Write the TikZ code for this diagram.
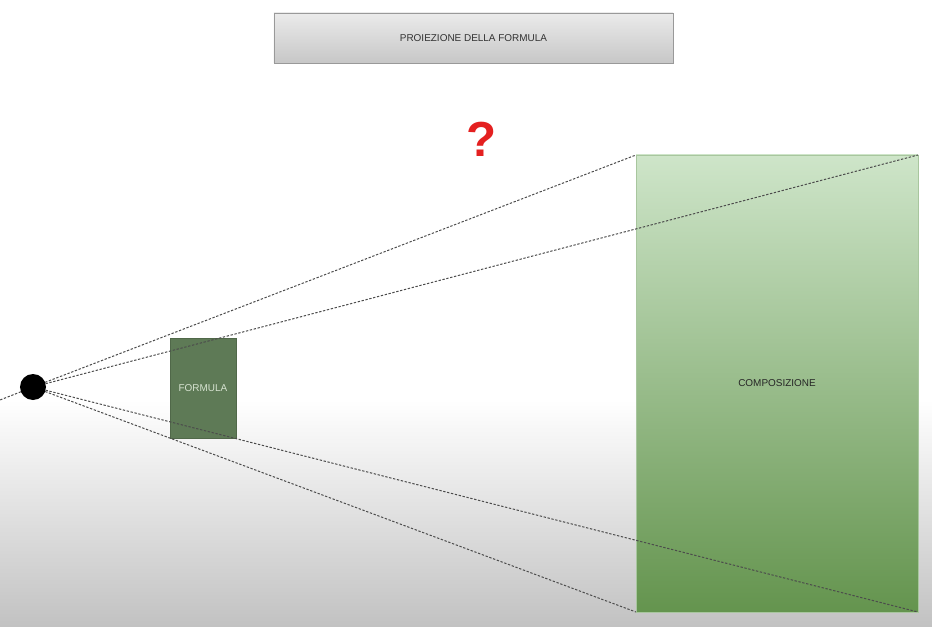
\documentclass[tikz,border=0pt]{standalone}
\usepackage{fontspec}
\setmainfont{Liberation Sans}
\definecolor{compTop}{RGB}{206,229,201}
\definecolor{compMid}{RGB}{166,206,150}
\definecolor{compBot}{RGB}{100,148,78}
\definecolor{compLine}{RGB}{168,198,158}
\definecolor{formFill}{RGB}{94,122,86}
\definecolor{formText}{RGB}{214,226,208}
\definecolor{qRed}{RGB}{228,32,32}
\begin{document}
\begin{tikzpicture}[x=0.03cm,y=-0.03cm,every node/.style={font=\fontsize{8.5}{10}\selectfont,inner sep=0pt,outer sep=0pt},
  sight/.style={dash pattern=on 2pt off 1.4pt,line width=0.85pt,black!70}]
\useasboundingbox (0,0) rectangle (932,627);
\fill[white] (0,0) rectangle (932,400);
\shade[top color=white,bottom color=black!24] (0,400) rectangle (932,627);
\node[draw=black!40,top color=black!8,bottom color=black!22,minimum width=11.97cm,minimum height=1.5cm,text=black!80] (title) at (473.5,38) {PROIEZIONE DELLA FORMULA};
\node[font=\fontsize{42}{46}\selectfont\bfseries,text=qRed] (quest) at (482,139) {?};
\node[draw=compLine,top color=compTop,middle color=compMid,bottom color=compBot,minimum width=8.46cm,minimum height=13.71cm,text=black!85] (comp) at (777,383.5) {COMPOSIZIONE};
\node[draw=formFill!85!black,fill=formFill,minimum width=1.98cm,minimum height=3cm,text=formText] (form) at (203,388) {FORMULA};
\node[circle,fill=black,minimum size=0.78cm] (eye) at (33,387) {};
\coordinate (lft) at (0,400);
\draw[sight] (eye) -- (comp.north west);
\draw[sight] (eye) -- (comp.north east);
\draw[sight] (eye) -- (comp.south west);
\draw[sight] (eye) -- (comp.south east);
\draw[sight] (eye) -- (lft);
\end{tikzpicture}
\end{document}
